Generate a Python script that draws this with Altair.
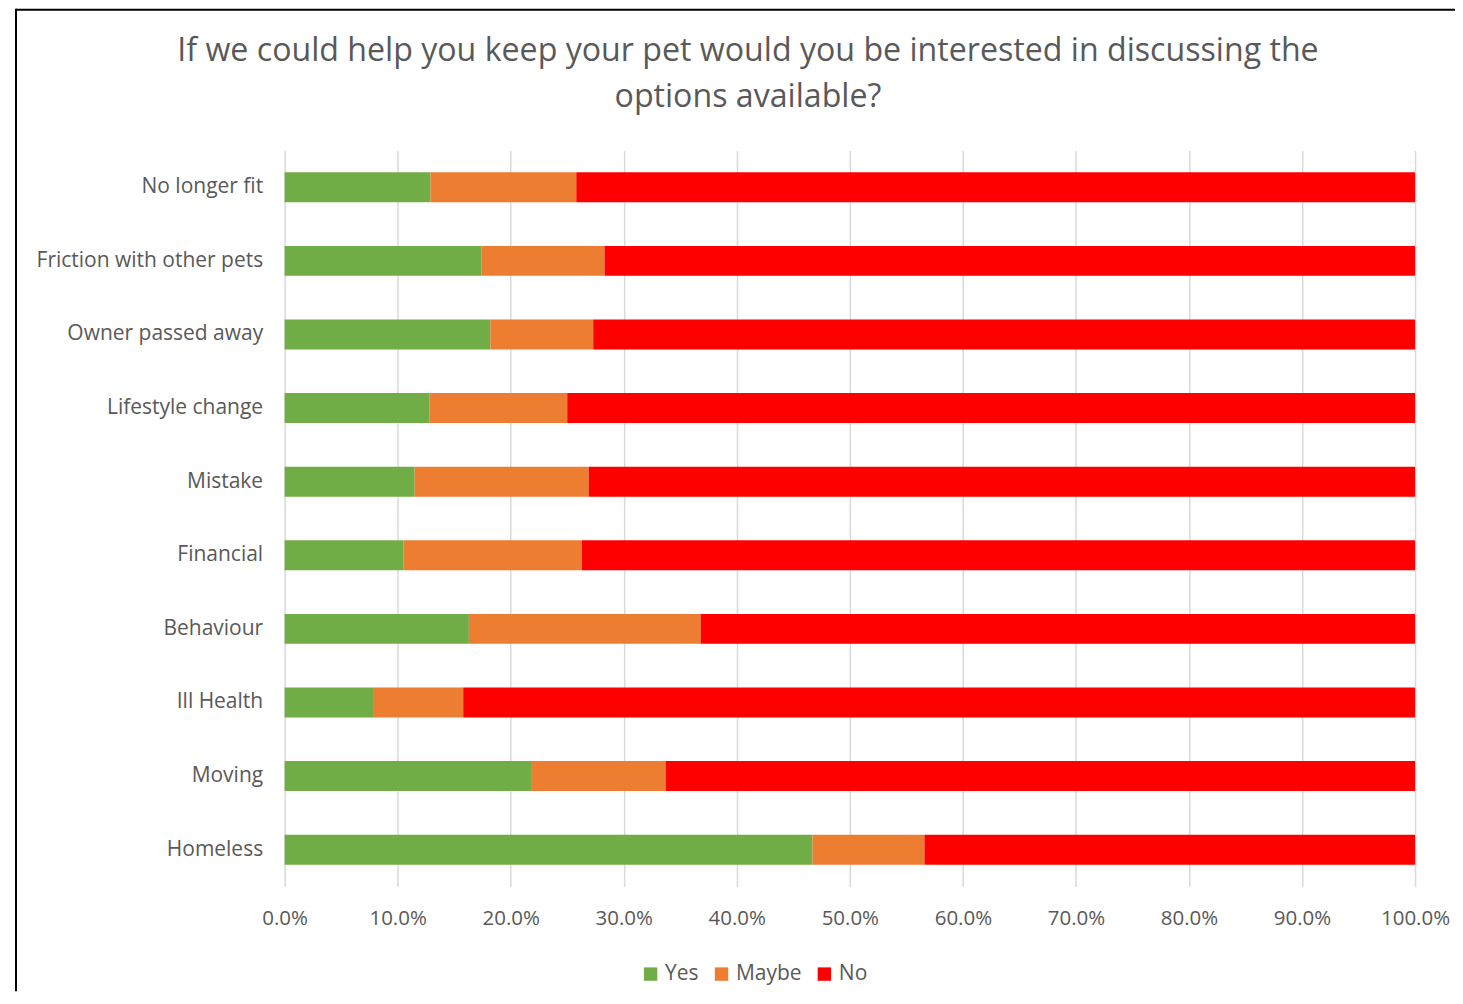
import altair as alt
import pandas as pd

categories = ["No longer fit", "Friction with other pets", "Owner passed away",
              "Lifestyle change", "Mistake", "Financial", "Behaviour",
              "Ill Health", "Moving", "Homeless"]
yes_vals = [12.9, 17.4, 18.2, 12.8, 11.5, 10.5, 16.3, 7.9, 21.8, 46.7]
maybe_vals = [12.9, 10.9, 9.1, 12.2, 15.4, 15.8, 20.5, 7.9, 11.9, 9.9]
no_vals = [74.2, 71.7, 72.7, 75.0, 73.1, 73.7, 63.2, 84.2, 66.3, 43.4]
series = ["Yes", "Maybe", "No"]
colors = ["#70ad47", "#ed7d31", "#ff0000"]
tick_values = [0, 10, 20, 30, 40, 50, 60, 70, 80, 90, 100]

rows = []
for i, c in enumerate(categories):
    for k, (s, vals) in enumerate(zip(series, [yes_vals, maybe_vals, no_vals])):
        rows.append({"cat": c, "series": s, "value": vals[i], "ord": k})
df = pd.DataFrame(rows)

W, H = 1132, 737
BOTTOM = 105
FONT = "Open Sans"
TXT = "#595959"

bars = alt.Chart(df).mark_bar(size=30).encode(
    y=alt.Y("cat:N", sort=categories, title=None,
            scale=alt.Scale(paddingInner=0.59, paddingOuter=0.295),
            axis=alt.Axis(domain=False, ticks=False, grid=False,
                          labelFontSize=21, labelColor=TXT, labelFont=FONT,
                          labelPadding=22, labelLimit=400)),
    x=alt.X("value:Q", stack="zero", title=None,
            scale=alt.Scale(domain=[0, 100], nice=False),
            axis=alt.Axis(values=tick_values, domain=False, ticks=False,
                          grid=True, gridColor="#d9d9d9", gridWidth=1.5,
                          labelExpr="format(datum.value, '.1f') + '%'",
                          labelFontSize=20.5, labelColor=TXT, labelFont=FONT,
                          labelPadding=22, labelFlush=False)),
    color=alt.Color("series:N", sort=series,
                    scale=alt.Scale(domain=series, range=colors),
                    legend=alt.Legend(title=None, orient="none", direction="horizontal",
                                      legendX=356, legendY=814,
                                      symbolType="square", symbolSize=180,
                                      symbolStrokeWidth=0,
                                      labelFontSize=21, labelColor=TXT, labelFont=FONT,
                                      labelOffset=4, columnPadding=12)),
    order=alt.Order("ord:Q"),
)

frame_df = pd.DataFrame({"a": [0]})
left_border = alt.Chart(frame_df).mark_rule(color="black", strokeWidth=2).encode(
    x=alt.value(-269), y=alt.value(-142), y2=alt.value(H + BOTTOM))
top_border = alt.Chart(frame_df).mark_rule(color="black", strokeWidth=2).encode(
    x=alt.value(-269), x2=alt.value(W + 40), y=alt.value(-141))

chart = alt.layer(bars, left_border, top_border).properties(
    width=W, height=H,
    title=alt.TitleParams(
        ["If we could help you keep your pet would you be interested in discussing the",
         "options available?"],
        anchor="middle", frame="group", dx=-102, fontSize=32.2, font=FONT,
        fontWeight="normal", color=TXT, lineHeight=46, offset=-107),
    autosize=alt.AutoSizeParams(type="none"),
    padding={"left": 277, "top": 142, "right": 40, "bottom": BOTTOM},
).configure_view(stroke=None)

chart.save("out.html", embed_options={"renderer": "svg", "actions": False})
